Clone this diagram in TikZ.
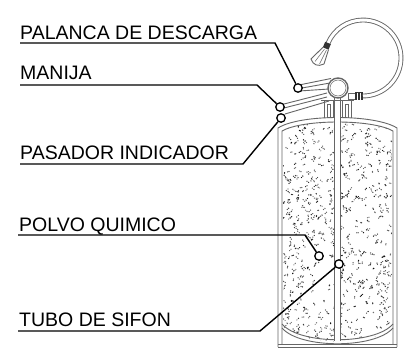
\documentclass[tikz,border=0pt]{standalone}
\usepackage{fontspec}
\setmainfont{Liberation Sans}
\begin{document}
\begin{tikzpicture}[x=1pt,y=-1pt,
  lbl/.style={anchor=base west, inner sep=0pt, font=\fontsize{19.5}{20}\selectfont},
  leader/.style={line width=1.4pt, black},
  marker/.style={circle, draw=black, fill=white, line width=1.3pt, minimum size=8.5pt, inner sep=0pt},
  part/.style={draw=black!60, line width=0.9pt},
  hose/.style={draw=black!60, line width=0.9pt, double=white, double distance=3pt}]
\useasboundingbox[fill=white] (0,0) rectangle (414,361);

% ---- dry chemical powder inside the cylinder ----
\begin{scope}
  \clip (283,340) -- (283,130) .. controls (303,120) and (372,120) .. (392,130)
        -- (392,326) .. controls (375,347) and (300,347) .. (283,326) -- cycle;
  \pgfmathsetseed{4242}
  \foreach \i in {1,...,700}{
    \pgfmathsetmacro{\px}{283+109*rnd}
    \pgfmathsetmacro{\py}{118+228*rnd}
    \pgfmathsetmacro{\gr}{55+40*rnd}
    \pgfmathsetmacro{\dx}{1.6*cos(360*rnd)}
    \pgfmathsetmacro{\dy}{1.6*sin(360*rnd)}
    \fill[black!\gr] (\px,\py) circle (0.7) (\px+\dx,\py+\dy) circle (0.6);
  }
\end{scope}

% ---- cylinder shell ----
\draw[part] (278,347) -- (278,128) .. controls (300,114) and (375,114) .. (397,128) -- (397,347);
\draw[part] (282,344) -- (282,131) .. controls (303,119) and (372,119) .. (393,131) -- (393,344);
\draw[part] (278,347) -- (397,347);
\draw[part] (278,344) -- (397,344);
% bottom dish
\draw[part] (282,324) .. controls (300,345) and (375,345) .. (393,324);
\draw[part] (282,328) .. controls (300,349) and (375,349) .. (393,328);

% ---- siphon tube ----
\fill[white] (334.4,98) rectangle (339.6,341);
\draw[part] (334,98) -- (334,341);
\draw[part] (340,98) -- (340,341);

% ---- neck collar ----
\draw[part] (324,118) -- (324,100) -- (333,100) -- (333,118);
\draw[part] (327,118) -- (327,104) -- (330,104) -- (330,118);
\draw[part] (342,118) -- (342,100) -- (351,100) -- (351,118);
\draw[part] (345,118) -- (345,104) -- (348,104) -- (348,118);
\draw[part] (321,100) -- (354,100);

% ---- discharge lever, carrying handle and pin ----
\draw[part] (299,85) -- (331,78.5);
\draw[part] (299,91) -- (329,89);
\draw[part] (302,88) -- (330,83);
\draw[part] (284,104) -- (327,93);
\draw[part] (284,108) -- (327,97);
\draw[part] (285,114) -- (329,101);

% ---- valve body ----
\filldraw[part, fill=white, line width=1.4pt] (338,88) circle (10);
\draw[part, line width=0.5pt] (338,88) circle (8);

% ---- hose coupling ----
\draw[part] (348,93) rectangle (355,99);
\fill[black!80] (355,92) rectangle (363,100);
\draw[white, line width=0.4pt] (357.5,92.5) -- (357.5,99.5) (360,92.5) -- (360,99.5);

% ---- hose ----
\draw[hose] (363,96) arc[start angle=90, end angle=-157, radius=38];

% ---- nozzle ----
\fill[black!80] (330.8,44.2) -- (325.2,41.8) -- (322.9,47.3) -- (328.5,49.7) -- cycle;
\draw[part] (322.9,47.3) -- (311,59) .. controls (313,65) and (318,67) .. (324,64) -- (328.5,49.7);
\draw[part, line width=0.5pt] (324.5,49) -- (315,61.5);
\draw[part, line width=0.5pt] (326.5,50) -- (319.5,64);

% ---- callout markers ----
\node[marker] (mPal) at (298,88) {};
\node[marker] (mMan) at (280,107) {};
\node[marker] (mPas) at (281,118) {};
\node[marker] (mPol) at (319,256) {};
\node[marker] (mTub) at (339,264) {};

% ---- labels ----
\node[lbl] (tPal) at (20,39) {PALANCA DE DESCARGA};
\node[lbl] (tMan) at (20,79) {MANIJA};
\node[lbl] (tPas) at (20,159) {PASADOR INDICADOR};
\node[lbl] (tPol) at (19,231) {POLVO QUIMICO};
\node[lbl] (tTub) at (19,326) {TUBO DE SIFON};

% ---- leader lines ----
\coordinate (aPal) at (20,43);  \coordinate (bPal) at (275,43);
\coordinate (aMan) at (20,85);  \coordinate (bMan) at (257,85);
\coordinate (aPas) at (20,164); \coordinate (bPas) at (243,164);
\coordinate (aPol) at (18,235); \coordinate (bPol) at (305,235);
\coordinate (aTub) at (18,331); \coordinate (bTub) at (260,331);
\draw[leader] (aPal) -- (bPal) -- (mPal);
\draw[leader] (aMan) -- (bMan) -- (mMan);
\draw[leader] (aPas) -- (bPas) -- (mPas);
\draw[leader] (aPol) -- (bPol) -- (mPol);
\draw[leader] (aTub) -- (bTub) -- (mTub);
\end{tikzpicture}
\end{document}
